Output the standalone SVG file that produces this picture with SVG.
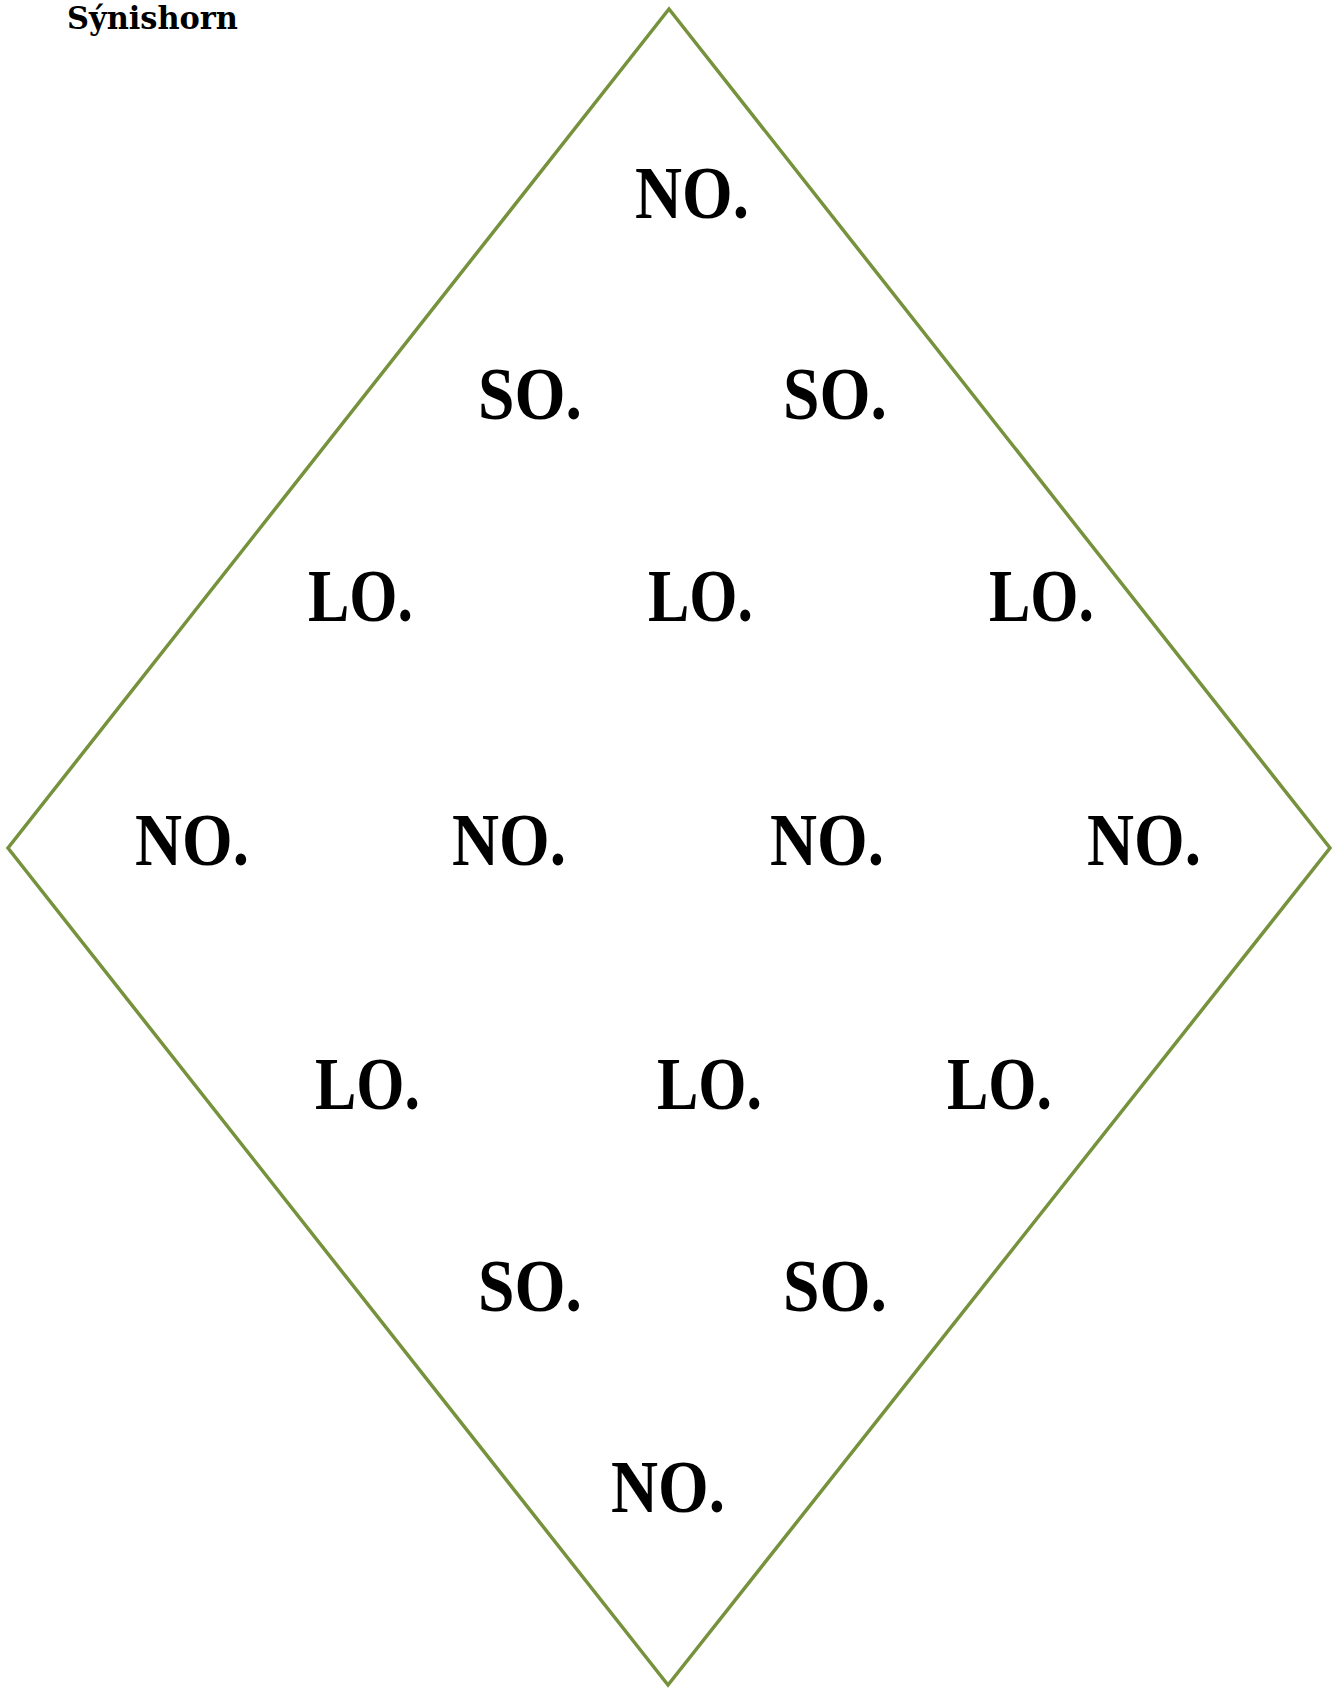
<svg xmlns="http://www.w3.org/2000/svg" width="1339" height="1688" viewBox="0 0 1339 1688">
<style>
.lbl{font-family:"Liberation Serif","Times New Roman",serif;font-weight:bold;font-size:75px;fill:#000}
.ttl{font-family:"DejaVu Serif","Liberation Serif",serif;font-weight:bold;font-size:31px;fill:#000}
.dia{fill:none;stroke:#76923C;stroke-width:3.5;stroke-linejoin:miter}
</style>
<rect width="1339" height="1688" fill="#fff"/>
<g id="title"><text class="ttl" x="67" y="29" textLength="171" lengthAdjust="spacingAndGlyphs">Sýnishorn</text></g>
<g id="diamond"><polygon class="dia" points="669,9 1330,848 668,1685 8,848"/></g>
<g id="connectors"></g>
<g id="n1"><text class="lbl" x="635" y="218" textLength="114" lengthAdjust="spacingAndGlyphs">NO.</text></g>
<g id="s1"><text class="lbl" x="478" y="419" textLength="104" lengthAdjust="spacingAndGlyphs">SO.</text></g>
<g id="s2"><text class="lbl" x="783" y="419" textLength="104" lengthAdjust="spacingAndGlyphs">SO.</text></g>
<g id="l1"><text class="lbl" x="308" y="621" textLength="105" lengthAdjust="spacingAndGlyphs">LO.</text></g>
<g id="l2"><text class="lbl" x="648" y="621" textLength="105" lengthAdjust="spacingAndGlyphs">LO.</text></g>
<g id="l3"><text class="lbl" x="989" y="621" textLength="105" lengthAdjust="spacingAndGlyphs">LO.</text></g>
<g id="n2"><text class="lbl" x="135" y="865" textLength="114" lengthAdjust="spacingAndGlyphs">NO.</text></g>
<g id="n3"><text class="lbl" x="452" y="865" textLength="114" lengthAdjust="spacingAndGlyphs">NO.</text></g>
<g id="n4"><text class="lbl" x="770" y="865" textLength="114" lengthAdjust="spacingAndGlyphs">NO.</text></g>
<g id="n5"><text class="lbl" x="1087" y="865" textLength="114" lengthAdjust="spacingAndGlyphs">NO.</text></g>
<g id="l4"><text class="lbl" x="315" y="1109" textLength="105" lengthAdjust="spacingAndGlyphs">LO.</text></g>
<g id="l5"><text class="lbl" x="657" y="1109" textLength="105" lengthAdjust="spacingAndGlyphs">LO.</text></g>
<g id="l6"><text class="lbl" x="947" y="1109" textLength="105" lengthAdjust="spacingAndGlyphs">LO.</text></g>
<g id="s3"><text class="lbl" x="478" y="1311" textLength="104" lengthAdjust="spacingAndGlyphs">SO.</text></g>
<g id="s4"><text class="lbl" x="783" y="1311" textLength="104" lengthAdjust="spacingAndGlyphs">SO.</text></g>
<g id="n6"><text class="lbl" x="611" y="1512" textLength="114" lengthAdjust="spacingAndGlyphs">NO.</text></g>
</svg>
